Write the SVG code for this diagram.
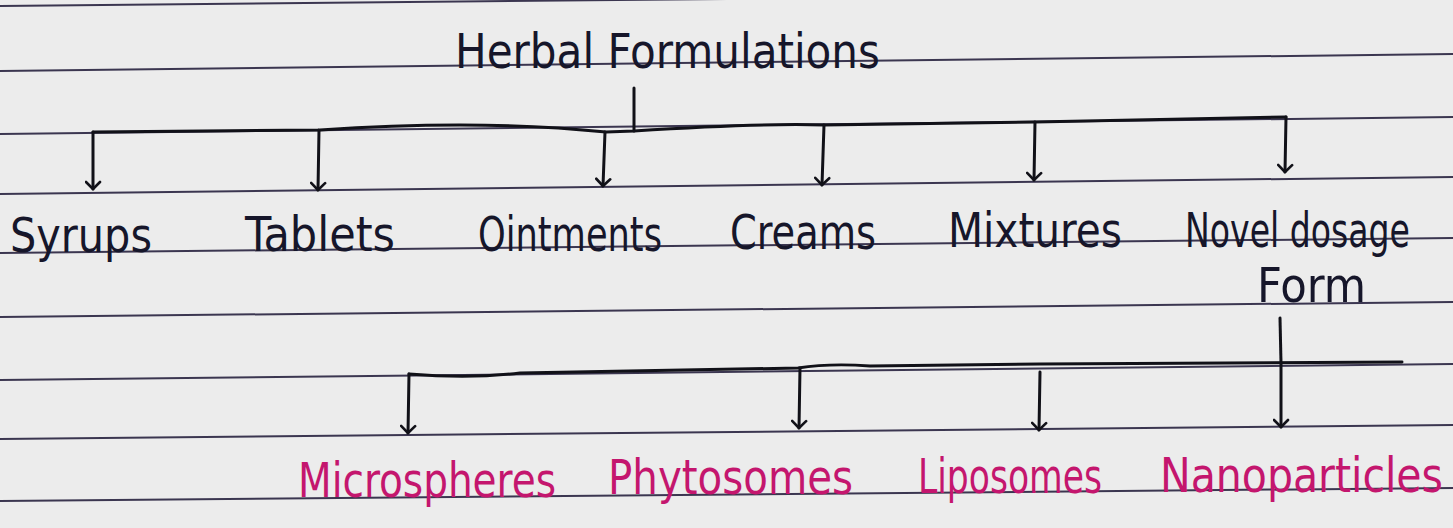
<svg xmlns="http://www.w3.org/2000/svg" width="1453" height="528" viewBox="0 0 1453 528">
<defs>
<marker id="arr" markerUnits="userSpaceOnUse" markerWidth="20" markerHeight="20" refX="10" refY="12" orient="auto" viewBox="0 0 20 20">
<path d="M3,5 L10,12 L17,5" fill="none" stroke="#111118" stroke-width="2.6" stroke-linecap="round" stroke-linejoin="round" transform="rotate(-90 10 12)"/>
</marker>
</defs>
<style>
.rule{stroke:#3b3650;stroke-width:2;fill:none}
.ink{fill:none;stroke:#111118;stroke-width:3;stroke-linecap:round;stroke-linejoin:round}
.t{font-family:"DejaVu Sans Condensed","Liberation Sans Narrow","Liberation Sans",sans-serif;fill:#16162a;font-size:48px}
.m{fill:#c4166e}
</style>
<rect width="1453" height="528" fill="#ececec"/>
<g id="rules">
<line class="rule" x1="0" y1="6" x2="1453" y2="-8"/>
<line class="rule" x1="0" y1="71" x2="1453" y2="54"/>
<line class="rule" x1="0" y1="134" x2="1453" y2="117"/>
<line class="rule" x1="0" y1="194" x2="1453" y2="177"/>
<line class="rule" x1="0" y1="253" x2="1453" y2="238"/>
<line class="rule" x1="0" y1="317" x2="1453" y2="302"/>
<line class="rule" x1="0" y1="380" x2="1453" y2="364"/>
<line class="rule" x1="0" y1="439" x2="1453" y2="425"/>
<line class="rule" x1="0" y1="501" x2="1453" y2="488"/>
</g>
<g id="connectors">
<line class="ink" x1="634" y1="88" x2="634" y2="131"/>
<path class="ink" d="M93,132 L320,130 Q480,119 606,132 L634,131 Q760,123 824,125 L1035,122 L1286,117"/>
<line class="ink" x1="93" y1="132" x2="93" y2="189" marker-end="url(#arr)"/>
<line class="ink" x1="319" y1="130" x2="318" y2="190" marker-end="url(#arr)"/>
<line class="ink" x1="605" y1="132" x2="603" y2="186" marker-end="url(#arr)"/>
<line class="ink" x1="824" y1="125" x2="822" y2="185" marker-end="url(#arr)"/>
<line class="ink" x1="1035" y1="122" x2="1034" y2="180" marker-end="url(#arr)"/>
<line class="ink" x1="1286" y1="117" x2="1285" y2="172" marker-end="url(#arr)"/>
<line class="ink" x1="1280" y1="318" x2="1281" y2="363"/>
<path class="ink" d="M409,374 Q470,379 520,373 L798,368 Q830,363 870,366 L1040,364 L1402,362"/>
<line class="ink" x1="409" y1="374" x2="408" y2="433" marker-end="url(#arr)"/>
<line class="ink" x1="800" y1="368" x2="799" y2="428" marker-end="url(#arr)"/>
<line class="ink" x1="1040" y1="372" x2="1039" y2="430" marker-end="url(#arr)"/>
<line class="ink" x1="1281" y1="363" x2="1281" y2="427" marker-end="url(#arr)"/>
</g>
<g id="n-herbal"><text class="t" x="455" y="68" font-size="56" textLength="425" lengthAdjust="spacingAndGlyphs">Herbal Formulations</text></g>
<g id="n-syrups"><text class="t" x="10" y="252" textLength="142" lengthAdjust="spacingAndGlyphs">Syrups</text></g>
<g id="n-tablets"><text class="t" x="245" y="251" textLength="150" lengthAdjust="spacingAndGlyphs">Tablets</text></g>
<g id="n-ointments"><text class="t" x="478" y="251" textLength="184" lengthAdjust="spacingAndGlyphs">Ointments</text></g>
<g id="n-creams"><text class="t" x="730" y="249" textLength="146" lengthAdjust="spacingAndGlyphs">Creams</text></g>
<g id="n-mixtures"><text class="t" x="948" y="247" textLength="174" lengthAdjust="spacingAndGlyphs">Mixtures</text></g>
<g id="n-novel"><text class="t" x="1185" y="247" font-size="40" textLength="225" lengthAdjust="spacingAndGlyphs">Novel dosage</text><text class="t" x="1257" y="302" textLength="109" lengthAdjust="spacingAndGlyphs">Form</text></g>
<g id="n-micro"><text class="t m" x="298" y="497" font-size="50" textLength="258" lengthAdjust="spacingAndGlyphs">Microspheres</text></g>
<g id="n-phyto"><text class="t m" x="608" y="494" font-size="50" textLength="245" lengthAdjust="spacingAndGlyphs">Phytosomes</text></g>
<g id="n-lipo"><text class="t m" x="918" y="493" font-size="50" textLength="184" lengthAdjust="spacingAndGlyphs">Liposomes</text></g>
<g id="n-nano"><text class="t m" x="1160" y="492" font-size="43" textLength="283" lengthAdjust="spacingAndGlyphs">Nanoparticles</text></g>
</svg>
